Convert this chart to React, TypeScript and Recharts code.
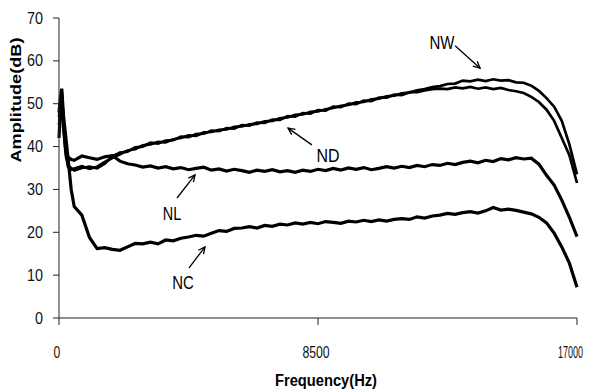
import React from 'react';
import { LineChart, Line, XAxis, YAxis, ReferenceLine, ReferenceDot, Label } from 'recharts';

const freqHz = [0, 40, 90, 150, 220, 300, 400, 500, 750, 1000, 1250, 1500, 1750, 2000, 2250, 2500, 2750, 3000, 3250, 3500, 3750, 4000, 4250, 4500, 4750, 5000, 5250, 5500, 5750, 6000, 6250, 6500, 6750, 7000, 7250, 7500, 7750, 8000, 8250, 8500, 8750, 9000, 9250, 9500, 9750, 10000, 10250, 10500, 10750, 11000, 11250, 11500, 11750, 12000, 12250, 12500, 12750, 13000, 13250, 13500, 13750, 14000, 14250, 14500, 14750, 15000, 15250, 15500, 15750, 16000, 16250, 16500, 16750, 17000];

const nwDb = [47, 50, 53, 45, 38, 35.2, 34.6, 34.9, 35.4, 34.8, 35.3, 36.4, 37.3, 38.2, 39.1, 39.4, 40.3, 40.5, 41.1, 41.0, 41.7, 42.0, 42.6, 42.5, 43.3, 43.4, 43.9, 44.0, 44.6, 44.7, 45.2, 45.3, 45.9, 46.0, 46.6, 46.8, 47.4, 47.5, 48.1, 48.2, 48.7, 49.0, 49.5, 49.7, 50.3, 50.4, 51.0, 51.2, 51.7, 51.9, 52.4, 52.6, 53.1, 53.4, 53.9, 54.1, 54.6, 54.7, 55.4, 55.2, 55.6, 55.3, 55.7, 55.4, 55.5, 55.0, 54.9, 54.2, 53.0, 51.3, 49.3, 46.0, 40.5, 33.5];

const ndDb = [45, 49, 52.5, 46, 39, 35.6, 35.0, 34.4, 35.0, 35.3, 34.9, 36.0, 37.7, 38.6, 38.8, 39.8, 40.0, 40.9, 40.7, 41.4, 41.5, 42.3, 42.2, 42.9, 43.0, 43.7, 43.6, 44.3, 44.2, 45.0, 44.9, 45.6, 45.5, 46.3, 46.2, 47.1, 47.0, 47.8, 47.7, 48.5, 48.4, 49.3, 49.2, 50.0, 49.9, 50.7, 50.6, 51.4, 51.4, 52.1, 52.0, 52.7, 52.7, 53.1, 53.4, 53.5, 53.4, 53.8, 53.6, 53.9, 53.5, 53.8, 53.4, 53.7, 53.2, 52.9, 52.5, 51.6, 50.4, 48.6, 46.0, 42.0, 38.0, 31.5];

const nlDb = [42, 48, 51.5, 44, 39, 37.5, 37.0, 36.8, 37.8, 37.4, 37.0, 37.6, 37.9, 36.6, 36.0, 35.7, 35.2, 35.5, 35.0, 35.3, 34.8, 35.1, 34.6, 34.9, 35.2, 34.5, 34.8, 34.3, 34.7, 34.4, 34.0, 34.5, 34.2, 34.6, 34.1, 34.4, 34.0, 34.5, 34.2, 34.7, 34.4, 34.9, 34.5, 35.0, 34.7, 35.1, 34.6, 34.9, 35.3, 35.0, 35.4, 35.1, 35.6, 35.3, 35.8, 35.6, 36.1, 35.8, 36.3, 36.6, 36.2, 36.8, 36.5, 37.2, 36.9, 37.4, 37.1, 37.3, 35.9, 33.3, 31.0, 27.5, 23.5, 19.0];

const ncDb = [48, 51, 53.5, 47, 42.5, 37, 30, 26.0, 24.0, 18.8, 16.2, 16.4, 16.0, 15.8, 16.6, 17.4, 17.3, 17.7, 17.3, 18.2, 18.0, 18.6, 18.9, 19.3, 19.1, 19.8, 20.4, 20.2, 20.9, 21.0, 21.3, 21.0, 21.6, 21.4, 21.9, 21.7, 22.2, 21.9, 22.3, 22.0, 22.5, 22.3, 22.1, 22.6, 22.4, 22.8, 22.5, 22.9, 22.6, 23.0, 23.2, 23.0, 23.6, 23.3, 23.8, 24.0, 24.4, 24.2, 24.6, 24.8, 24.5, 25.0, 25.8, 25.2, 25.4, 25.1, 24.7, 24.3, 23.5, 22.2, 19.8, 16.6, 12.8, 7.2];

const xTicks = [0, 8500, 17000];
const yTicks = [0, 10, 20, 30, 40, 50, 60, 70];

const seriesNames = ['NW', 'ND', 'NL', 'NC'];

const data = freqHz.map((f, i) => ({
  f,
  NW: nwDb[i],
  ND: ndDb[i],
  NL: nlDb[i],
  NC: ncDb[i],
}));

// annotation label anchors & arrows in data coordinates
const annotations = [
  { name: 'NW', tx: 12570, ty: 64.2, from: { x: 13000, y: 63.5 }, to: { x: 13820, y: 58.3 }, w: 25 },
  { name: 'ND', tx: 8830, ty: 38.0, from: { x: 8300, y: 40.4 }, to: { x: 7516, y: 44.3 }, w: 23 },
  { name: 'NL', tx: 3710, ty: 24.4, from: { x: 3873, y: 28.0 }, to: { x: 4464, y: 33.4 }, w: 18.5 },
  { name: 'NC', tx: 4070, ty: 8.4, from: { x: 4267, y: 11.7 }, to: { x: 4792, y: 16.6 }, w: 21.5 },
];

const FONT = "'Liberation Sans', Arial, sans-serif";
const CHART_W = 586;

const XTick = (props: any) => {
  const { x, y, payload } = props;
  const label = String(payload.value);
  const w = label.length * 6.8;
  const left = x - 2 - w / 2;
  const right = Math.min(x - 2 + w / 2, CHART_W - 11);
  return (
    <text
      x={right}
      y={y + 12}
      textAnchor="end"
      fontFamily={FONT}
      fontSize={16}
      fill="#111"
      textLength={right - left}
      lengthAdjust="spacingAndGlyphs"
    >
      {label}
    </text>
  );
};

const YTick = (props: any) => {
  const { x, y, payload } = props;
  const label = String(payload.value);
  return (
    <text
      x={x}
      y={y + 5.6}
      textAnchor="end"
      fontFamily={FONT}
      fontSize={16}
      fill="#111"
      textLength={label.length * 8}
      lengthAdjust="spacingAndGlyphs"
    >
      {label}
    </text>
  );
};

const Arrow = (props: any) => {
  const { x1, y1, x2, y2 } = props;
  const ang = Math.atan2(y2 - y1, x2 - x1);
  const L = 7.5;
  const a = 0.45;
  const ax = x2 - L * Math.cos(ang - a);
  const ay = y2 - L * Math.sin(ang - a);
  const bx = x2 - L * Math.cos(ang + a);
  const by = y2 - L * Math.sin(ang + a);
  return (
    <g>
      <line x1={x1} y1={y1} x2={x2} y2={y2} stroke="#000" strokeWidth={1.3} />
      <polyline points={`${ax},${ay} ${x2},${y2} ${bx},${by}`} fill="none" stroke="#000" strokeWidth={1.3} />
    </g>
  );
};

const makeTextShape = (name: string, w: number) => (props: any) => {
  const { cx, cy } = props;
  return (
    <text
      x={cx}
      y={cy + 6.5}
      textAnchor="middle"
      fontFamily={FONT}
      fontSize={18}
      textLength={w}
      lengthAdjust="spacingAndGlyphs"
      fill="#000"
    >
      {name}
    </text>
  );
};

const XTitle = (props: any) => {
  const vb = props.viewBox || { x: 51, y: 310, width: 518, height: 74 };
  const cx = vb.x + vb.width / 2 + 8;
  const cy = vb.y + 68;
  return (
    <text x={cx} y={cy} textAnchor="middle" fontFamily={FONT} fontSize={16} fontWeight="bold" textLength={102} lengthAdjust="spacingAndGlyphs" fill="#000">
      Frequency(Hz)
    </text>
  );
};

const YTitle = (props: any) => {
  const vb = props.viewBox || { x: 0, y: 10, width: 51, height: 300 };
  const cx = vb.x + 12.5;
  const cy = vb.y + 82;
  return (
    <text
      x={cx}
      y={cy}
      transform={`rotate(-90, ${cx}, ${cy})`}
      textAnchor="middle"
      fontFamily={FONT}
      fontSize={14}
      fontWeight="bold"
      textLength={125}
      lengthAdjust="spacingAndGlyphs"
      fill="#000"
    >
      Amplitude(dB)
    </text>
  );
};

export default function App() {
  return (
    <div>
      <style>{'html{overflow:hidden}'}</style>
      <LineChart width={CHART_W} height={384} data={data} margin={{ top: 10, right: 17, bottom: 0, left: 0 }}>
        <XAxis
          dataKey="f"
          type="number"
          domain={[0, 17000]}
          ticks={xTicks}
          tickSize={7}
          tickMargin={21}
          height={74}
          stroke="#222"
          tick={<XTick />}
          interval={0}
        >
          <Label content={<XTitle />} />
        </XAxis>
        <YAxis
          type="number"
          domain={[0, 70]}
          ticks={yTicks}
          tickSize={6}
          tickMargin={10}
          width={51}
          stroke="#222"
          tick={<YTick />}
          interval={0}
        >
          <Label content={<YTitle />} />
        </YAxis>
        {seriesNames.map((s) => (
          <Line
            key={s}
            type="linear"
            dataKey={s}
            stroke="#000"
            strokeWidth={s === 'NC' || s === 'NL' ? 3.2 : 2.7}
            dot={false}
            isAnimationActive={false}
          />
        ))}
        {annotations.map((a) => (
          <ReferenceLine key={`l-${a.name}`} segment={[a.from, a.to]} shape={Arrow} />
        ))}
        {annotations.map((a) => (
          <ReferenceDot key={`t-${a.name}`} x={a.tx} y={a.ty} r={3} shape={makeTextShape(a.name, a.w)} />
        ))}
      </LineChart>
    </div>
  );
}
